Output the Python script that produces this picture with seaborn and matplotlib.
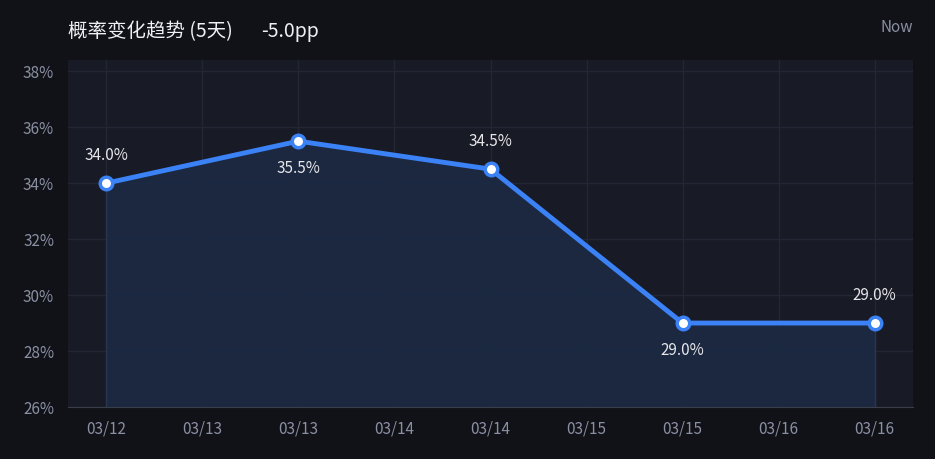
import matplotlib
matplotlib.use("Agg")
import matplotlib.pyplot as plt
import seaborn as sns
import pandas as pd

dates = ["03/12", "03/13", "03/14", "03/15", "03/16"]
values = [34.0, 35.5, 34.5, 29.0, 29.0]
tick_labels = ["03/12", "03/13", "03/13", "03/14", "03/14", "03/15", "03/15", "03/16", "03/16"]
yticks = [26, 28, 30, 32, 34, 36, 38]

sns.set_style("dark")
plt.rcParams['font.family'] = ['Noto Sans CJK SC', 'DejaVu Sans']

df = pd.DataFrame({"x": [0, 2, 4, 6, 8], "v": values})

fig = plt.figure(figsize=(9.35, 4.59), dpi=100, facecolor="#111217")
ax = fig.add_axes([68/935, 52/459, 845/935, 347/459])
ax.set_facecolor("#181a25")
ax.fill_between(df.x, df.v, 26, color="#1c2a44", alpha=0.9, zorder=1)
ax.vlines([0, 8], 26, [values[0], values[-1]], color="#2a3550", lw=1, zorder=1)
sns.lineplot(data=df, x="x", y="v", ax=ax, color="#3b82f6", lw=3.5, zorder=3,
             marker="o", markersize=9, markerfacecolor="white",
             markeredgecolor="#3b82f6", markeredgewidth=2.5)
offs = [1, -1, 1, -1, 1]
for x, v, o in zip(df.x, df.v, offs):
    ax.annotate(f"{v:.1f}%", (x, v), xytext=(0, 20 * o), textcoords="offset points",
                ha="center", va="center", color="#e6e6ea", fontsize=11)
ax.set_xlim(-0.4, 8.4)
ax.set_ylim(26, 38.4)
ax.set_xticks(range(9))
ax.set_xticklabels(tick_labels)
ax.set_yticks(yticks)
ax.set_yticklabels([f"{t}%" for t in yticks])
ax.tick_params(colors="#8a8fa3", labelsize=11, length=0, pad=10)
ax.grid(True, color="#232634", lw=1)
ax.set_xlabel(""); ax.set_ylabel("")
for s in ["top", "right", "left"]:
    ax.spines[s].set_visible(False)
ax.spines["bottom"].set_color("#3a3d4a")
fig.text(68/935, 1 - 32/459, "概率变化趋势 (5天)", color="#f0f0f3", fontsize=14, va="center")
fig.text(261/935, 1 - 32/459, "-5.0pp", color="#f0f0f3", fontsize=14, va="center")
fig.text(913/935, 1 - 28/459, "Now", color="#8a8fa3", fontsize=11, va="center", ha="right")
fig.savefig("out.png", dpi=100, facecolor=fig.get_facecolor())
